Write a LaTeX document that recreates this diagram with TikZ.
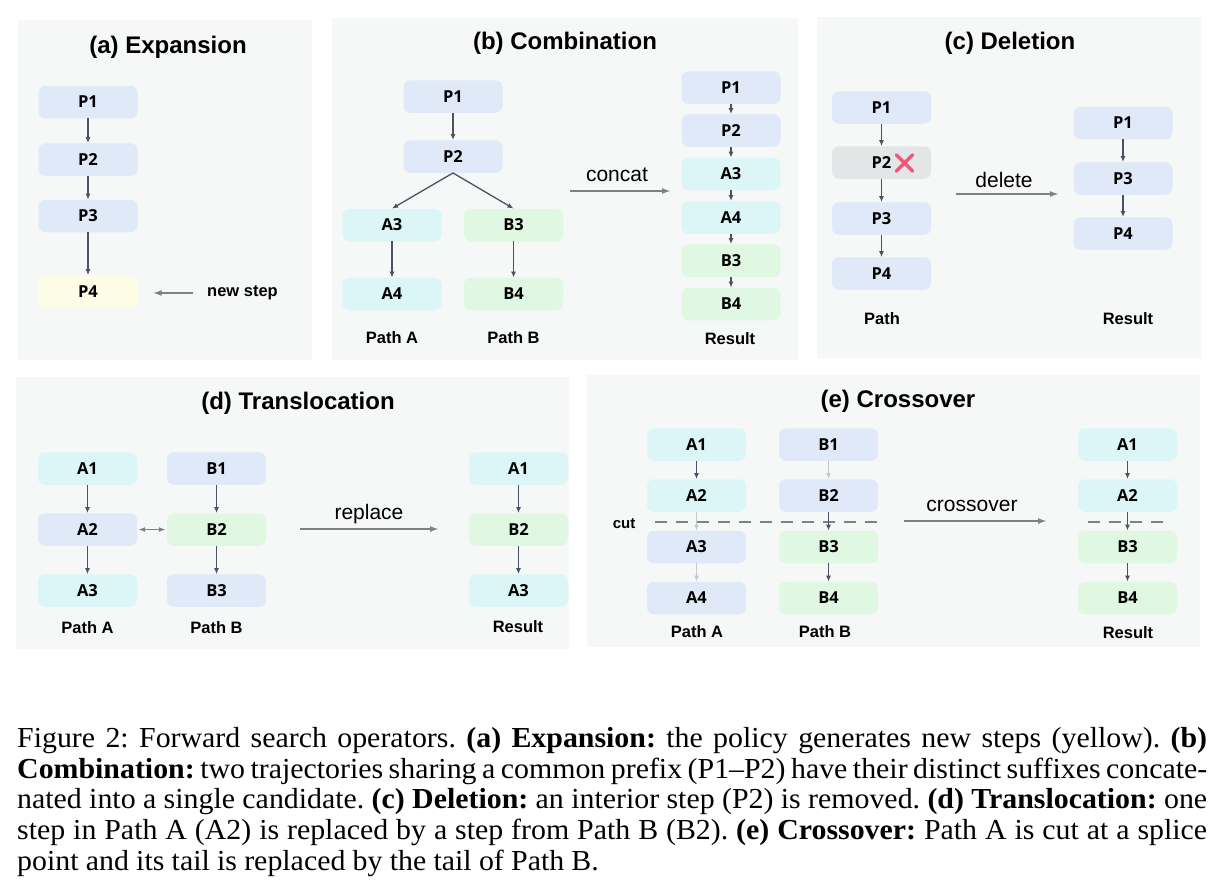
\documentclass[tikz,border=0pt]{standalone}
\usepackage{fontspec}
\setmainfont{Liberation Serif}
\newfontfamily\arialf{Liberation Sans}
\newfontfamily\notof{Open Sans}
\newfontfamily\capf[FakeStretch=1.03]{Liberation Serif}
\usetikzlibrary{arrows.meta,shapes.misc}
\definecolor{panelbg}{HTML}{F6F7F7}
\definecolor{boxblue}{HTML}{E0E9F8}
\definecolor{boxcyan}{HTML}{DCF6F7}
\definecolor{boxgreen}{HTML}{E0F8E2}
\definecolor{boxyellow}{HTML}{FDFDE6}
\definecolor{boxgray}{HTML}{E4E5E6}
\definecolor{darkarr}{HTML}{4A5263}
\definecolor{grayarr}{HTML}{7F8184}
\definecolor{lightarr}{HTML}{C5C9CF}
\definecolor{redx}{HTML}{F2557A}
\newcommand\capsetup{\capf\frenchspacing\fontsize{29}{30.8}\selectfont\spaceskip=0.25em plus 0.3em minus 0.12em\relax}
\begin{document}
\begin{tikzpicture}[x=1pt,y=-1pt,
  panel/.style={fill=panelbg,draw=none},
  ptitle/.style={font=\arialf\bfseries\fontsize{24}{28}\selectfont, inner sep=0pt},
  box/.style={rounded corners=7pt, minimum width=99pt, minimum height=32.5pt, inner sep=0pt, font=\notof\bfseries\fontsize{16.5}{18}\selectfont},
  bbox/.style={box, fill=boxblue},
  cbox/.style={box, fill=boxcyan},
  gbox/.style={box, fill=boxgreen},
  ybox/.style={box, fill=boxyellow},
  xbox/.style={box, fill=boxgray},
  lab/.style={font=\arialf\bfseries\fontsize{16.5}{18}\selectfont, inner sep=0pt},
  cutlab/.style={font=\arialf\bfseries\fontsize{15}{17}\selectfont, inner sep=0pt},
  oplab/.style={font=\arialf\fontsize{21}{24}\selectfont, inner sep=0pt},
  arr/.style={draw=darkarr, line width=1.3pt, -{Latex[length=6pt,width=5pt]}},
  larr/.style={draw=lightarr, line width=1.3pt, -{Latex[length=6pt,width=5pt]}},
  garr/.style={draw=grayarr, line width=1.8pt, -{Latex[length=9pt,width=6pt]}},
  dgarr/.style={draw=grayarr, line width=1.8pt, {Latex[length=7pt,width=5pt]}-{Latex[length=7pt,width=5pt]}},
  cutline/.style={draw=grayarr, line width=2.2pt, dash pattern=on 12pt off 9pt},
]
\useasboundingbox (0,0) rectangle (1224,892);
\fill[white] (0,0) rectangle (1224,892);

% ---------- panels ----------
\fill[panel] (18,20) rectangle (312,360);
\fill[panel] (332,18) rectangle (798,360);
\fill[panel] (817,17) rectangle (1201,358);
\fill[panel] (16,377) rectangle (569,649);
\fill[panel] (587,375) rectangle (1200,647);

% ---------- (a) Expansion ----------
\node[ptitle] (ta) at (168,47) {(a) Expansion};
\node[bbox] (aP1) at (88,102) {P1};
\node[bbox] (aP2) at (88,159.5) {P2};
\node[bbox] (aP3) at (88,216) {P3};
\node[ybox] (aP4) at (88,291.5) {P4};
\draw[arr] (aP1) -- (aP2);
\draw[arr] (aP2) -- (aP3);
\draw[arr] (aP3) -- (aP4);
\node[lab, anchor=west] (newstep) at (207,293) {new step};
\draw[garr, shorten <=14pt, shorten >=15pt] (newstep.west) -- (aP4.east |- newstep.west);

% ---------- (b) Combination ----------
\node[ptitle] (tb) at (565,43) {(b) Combination};
\node[bbox] (bP1) at (453,96.5) {P1};
\node[bbox] (bP2) at (453,156.5) {P2};
\node[cbox] (bA3) at (392,225) {A3};
\node[gbox] (bB3) at (513.5,225) {B3};
\node[cbox] (bA4) at (392,294) {A4};
\node[gbox] (bB4) at (513.5,294) {B4};
\draw[arr] (bP1) -- (bP2);
\draw[arr] (bP2.south) -- (bA3.north);
\draw[arr] (bP2.south) -- (bB3.north);
\draw[arr] (bA3) -- (bA4);
\draw[arr] (bB3) -- (bB4);
\node[lab] (bpa) at (392,338) {Path A};
\node[lab] (bpb) at (513.5,338) {Path B};
\coordinate (bcS) at (570,191);
\coordinate (bcE) at (671,191);
\draw[garr] (bcS) -- (bcE);
\node[oplab] (concat) at (617,175) {concat};
\node[bbox] (rP1) at (731,87.5) {P1};
\node[bbox] (rP2) at (731,130.5) {P2};
\node[cbox] (rA3) at (731,174) {A3};
\node[cbox] (rA4) at (731,217.5) {A4};
\node[gbox] (rB3) at (731,260.5) {B3};
\node[gbox] (rB4) at (731,304) {B4};
\draw[arr] (rP1) -- (rP2);
\draw[arr] (rP2) -- (rA3);
\draw[arr] (rA3) -- (rA4);
\draw[arr] (rA4) -- (rB3);
\draw[arr] (rB3) -- (rB4);
\node[lab] (bres) at (730,339) {Result};

% ---------- (c) Deletion ----------
\node[ptitle] (tc) at (1010,43) {(c) Deletion};
\node[bbox] (cP1) at (881.5,107.5) {P1};
\node[xbox] (cP2) at (881.5,162.5) {P2};
\node[bbox] (cP3) at (881.5,218.5) {P3};
\node[bbox] (cP4) at (881.5,273.5) {P4};
\node[cross out, draw=redx, line width=3.4pt, minimum size=13pt, inner sep=0pt, line cap=round] (xmark) at (904.5,163) {};
\draw[arr] (cP1) -- (cP2);
\draw[arr] (cP2) -- (cP3);
\draw[arr] (cP3) -- (cP4);
\node[lab] (cpath) at (882,319) {Path};
\coordinate (cdS) at (956,194);
\coordinate (cdE) at (1059,194);
\draw[garr] (cdS) -- (cdE);
\node[oplab] (delete) at (1004,180) {delete};
\node[bbox] (crP1) at (1123,123) {P1};
\node[bbox] (crP3) at (1123,178.5) {P3};
\node[bbox] (crP4) at (1123,233.5) {P4};
\draw[arr] (crP1) -- (crP3);
\draw[arr] (crP3) -- (crP4);
\node[lab] (cres) at (1128,319) {Result};

% ---------- (d) Translocation ----------
\node[ptitle] (td) at (298,403) {(d) Translocation};
\node[cbox] (dA1) at (87.5,468.5) {A1};
\node[bbox] (dA2) at (87.5,529.5) {A2};
\node[cbox] (dA3) at (87.5,590.5) {A3};
\node[bbox] (dB1) at (216.5,468.5) {B1};
\node[gbox] (dB2) at (216.5,529.5) {B2};
\node[bbox] (dB3) at (216.5,590.5) {B3};
\draw[arr] (dA1) -- (dA2);
\draw[arr] (dA2) -- (dA3);
\draw[arr] (dB1) -- (dB2);
\draw[arr] (dB2) -- (dB3);
\draw[dgarr, shorten <=1pt, shorten >=1pt] (dA2) -- (dB2);
\node[lab] (dpa) at (87.5,628) {Path A};
\node[lab] (dpb) at (216.5,628) {Path B};
\coordinate (drS) at (300,529);
\coordinate (drE) at (439,529);
\draw[garr] (drS) -- (drE);
\node[oplab] (replace) at (369,514) {replace};
\node[cbox] (drA1) at (518.5,468.5) {A1};
\node[gbox] (drB2) at (518.5,529.5) {B2};
\node[cbox] (drA3) at (518.5,590.5) {A3};
\draw[arr] (drA1) -- (drB2);
\draw[arr] (drB2) -- (drA3);
\node[lab] (dres) at (518,627) {Result};

% ---------- (e) Crossover ----------
\node[ptitle] (te) at (898,401) {(e) Crossover};
\node[cbox] (eA1) at (696.5,444.5) {A1};
\node[cbox] (eA2) at (696.5,495.5) {A2};
\node[bbox] (eA3) at (696.5,547) {A3};
\node[bbox] (eA4) at (696.5,598) {A4};
\node[bbox] (eB1) at (828.5,444.5) {B1};
\node[bbox] (eB2) at (828.5,495.5) {B2};
\node[gbox] (eB3) at (828.5,547) {B3};
\node[gbox] (eB4) at (828.5,598) {B4};
\coordinate (cutL) at (655,522);
\coordinate (cutR) at (882,522);
\draw[cutline] (cutL) -- (cutR);
\node[cutlab] (cut) at (624,524) {cut};
\draw[arr] (eA1) -- (eA2);
\draw[larr] (eA2) -- (eA3);
\draw[larr] (eA3) -- (eA4);
\draw[larr] (eB1) -- (eB2);
\draw[arr] (eB2) -- (eB3);
\draw[arr] (eB3) -- (eB4);
\node[lab] (epa) at (697,632) {Path A};
\node[lab] (epb) at (825,632) {Path B};
\coordinate (ecS) at (904,521);
\coordinate (ecE) at (1047,521);
\draw[garr] (ecS) -- (ecE);
\node[oplab] (crossover) at (972,506) {crossover};
\node[cbox] (erA1) at (1127.5,444.5) {A1};
\node[cbox] (erA2) at (1127.5,495.5) {A2};
\node[gbox] (erB3) at (1127.5,547) {B3};
\node[gbox] (erB4) at (1127.5,598) {B4};
\coordinate (rcutL) at (1088,522);
\coordinate (rcutR) at (1167,522);
\draw[cutline] (rcutL) -- (rcutR);
\draw[arr] (erA1) -- (erA2);
\draw[arr] (erA2) -- (erB3);
\draw[arr] (erB3) -- (erB4);
\node[lab] (eres) at (1128,633) {Result};

% ---------- caption ----------
\node[anchor=north west, text width=1190pt, inner sep=0pt, align=justify,
      font=\capsetup] (caption) at (17,727)
{Figure 2: Forward search operators. \textbf{(a) Expansion:} the policy generates new steps (yellow). \textbf{(b)}\linebreak
\textbf{Combination:} two trajectories sharing a common prefix (P1–P2) have their distinct suffixes concate-\linebreak
nated into a single candidate. \textbf{(c) Deletion:} an interior step (P2) is removed. \textbf{(d) Translocation:} one\linebreak
step in Path A (A2) is replaced by a step from Path B (B2). \textbf{(e) Crossover:} Path A is cut at a splice\linebreak
point and its tail is replaced by the tail of Path B.};
\end{tikzpicture}
\end{document}
